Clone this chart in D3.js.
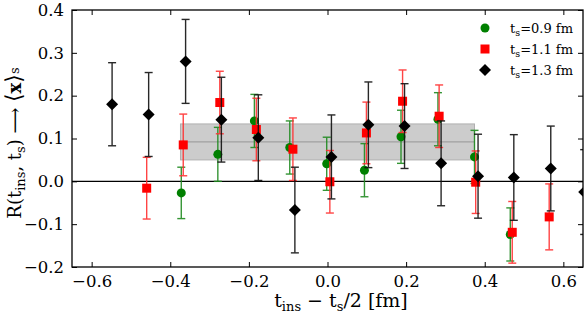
<!DOCTYPE html>
<html>
<head>
<meta charset="utf-8">
<script src="https://cdn.jsdelivr.net/npm/d3@7"></script>
<style>
  body { margin: 0; background: #fff; }
  svg { display: block; }
  text { font-family: "DejaVu Serif", "Liberation Serif", serif; fill: #000; }
</style>
</head>
<body>
<svg id="chart"></svg>
<script>
// ts = 0.9 fm
const greenX = [-0.372, -0.279, -0.186, -0.096, -0.002, 0.094, 0.187, 0.281, 0.374, 0.465];
const greenY = [-0.027, 0.063, 0.141, 0.079, 0.041, 0.026, 0.104, 0.145, 0.057, -0.124];
const greenErr = [0.060, 0.063, 0.062, 0.062, 0.062, 0.062, 0.062, 0.062, 0.062, 0.062];
// ts = 1.1 fm
const redX = [-0.460, -0.367, -0.274, -0.181, -0.088, 0.006, 0.099, 0.191, 0.284, 0.377, 0.470, 0.564];
const redY = [-0.016, 0.085, 0.184, 0.121, 0.075, -0.001, 0.113, 0.187, 0.152, -0.002, -0.119, -0.083];
const redErr = [0.072, 0.072, 0.073, 0.073, 0.073, 0.073, 0.072, 0.073, 0.073, 0.073, 0.072, 0.077];
// ts = 1.3 fm
const blackX = [-0.548, -0.455, -0.361, -0.270, -0.176, -0.083, 0.010, 0.104, 0.196, 0.289, 0.383, 0.474, 0.568, 0.653];
const blackY = [0.180, 0.156, 0.280, 0.144, 0.102, -0.067, 0.057, 0.132, 0.129, 0.042, 0.012, 0.009, 0.030, -0.025];
const blackErr = [0.097, 0.098, 0.098, 0.099, 0.100, 0.100, 0.098, 0.100, 0.099, 0.099, 0.098, 0.100, 0.099, 0.099];

// fit band
const bandRange = [-0.374, 0.374];
const bandValue = 0.092;
const bandErr = 0.042;

const xTicks = [-0.6, -0.4, -0.2, 0.0, 0.2, 0.4, 0.6];
const yTicks = [-0.2, -0.1, 0.0, 0.1, 0.2, 0.3, 0.4];
const legendLabels = ["0.9 fm", "1.1 fm", "1.3 fm"];

const width = 584, height = 313;
const margin = { top: 10, right: 1, bottom: 46, left: 72 };
const innerW = width - margin.left - margin.right;
const innerH = height - margin.top - margin.bottom;

const svg = d3.select('#chart').attr('width', width).attr('height', height);

const x = d3.scaleLinear().domain([-0.65, 0.65]).range([margin.left, margin.left + innerW]);
const y = d3.scaleLinear().domain([-0.2, 0.4]).range([margin.top + innerH, margin.top]);

svg.append('clipPath').attr('id', 'clip')
    .append('rect')
    .attr('x', margin.left).attr('y', margin.top)
    .attr('width', innerW).attr('height', innerH);

const plot = svg.append('g').attr('clip-path', 'url(#clip)');

// band
plot.append('rect')
    .attr('x', x(bandRange[0]))
    .attr('y', y(bandValue + bandErr))
    .attr('width', x(bandRange[1]) - x(bandRange[0]))
    .attr('height', y(bandValue - bandErr) - y(bandValue + bandErr))
    .attr('fill', '#cccccc')
    .attr('stroke', '#b0b0b0')
    .attr('stroke-width', 1);
plot.append('line')
    .attr('x1', x(bandRange[0])).attr('x2', x(bandRange[1]))
    .attr('y1', y(bandValue)).attr('y2', y(bandValue))
    .attr('stroke', '#a0a0a0').attr('stroke-width', 1.2);

// zero line
plot.append('line')
    .attr('x1', margin.left).attr('x2', margin.left + innerW)
    .attr('y1', y(0)).attr('y2', y(0))
    .attr('stroke', '#000').attr('stroke-width', 1.2);

const series = [
  { xs: greenX, ys: greenY, errs: greenErr, color: '#008000', bar: '#1f8a1f', shape: 'circle' },
  { xs: redX, ys: redY, errs: redErr, color: '#ff0000', bar: '#ff3030', shape: 'square' },
  { xs: blackX, ys: blackY, errs: blackErr, color: '#000000', bar: '#111111', shape: 'diamond' }
];

function drawMarker(g, shape, cx, cy, color) {
  if (shape === 'circle') {
    g.append('circle').attr('cx', cx).attr('cy', cy).attr('r', 4.5).attr('fill', color);
  } else if (shape === 'square') {
    g.append('rect').attr('x', cx - 4.5).attr('y', cy - 4.5).attr('width', 9).attr('height', 9).attr('fill', color);
  } else {
    const r = 6;
    g.append('path')
      .attr('d', `M${cx},${cy - r}L${cx + r},${cy}L${cx},${cy + r}L${cx - r},${cy}Z`)
      .attr('fill', color);
  }
}

const cap = 4;
series.forEach(s => {
  const g = plot.append('g');
  const pts = s.xs.map((v, i) => ({ x: v, y: s.ys[i], e: s.errs[i] }));
  const bars = g.append('g').attr('stroke', s.bar).attr('stroke-width', 1.4).attr('opacity', 0.9);
  pts.forEach(p => {
    const px = x(p.x);
    bars.append('line').attr('x1', px).attr('x2', px).attr('y1', y(p.y + p.e)).attr('y2', y(p.y - p.e));
    bars.append('line').attr('x1', px - cap).attr('x2', px + cap).attr('y1', y(p.y + p.e)).attr('y2', y(p.y + p.e));
    bars.append('line').attr('x1', px - cap).attr('x2', px + cap).attr('y1', y(p.y - p.e)).attr('y2', y(p.y - p.e));
  });
  pts.forEach(p => drawMarker(g, s.shape, x(p.x), y(p.y), s.color));
});

// axes, ticks inward on all sides
const fmt = d3.format('.1f');
const axisStyle = sel => {
  sel.select('.domain').remove();
  sel.selectAll('.tick line').attr('stroke', '#000').attr('stroke-width', 1);
  sel.selectAll('.tick text').style('font-size', '16.5px').style('font-family', '"DejaVu Serif", serif');
};
svg.append('g')
    .attr('transform', `translate(0,${margin.top + innerH})`)
    .call(d3.axisBottom(x).tickValues(xTicks).tickFormat(fmt).tickSize(-5).tickPadding(8))
    .call(axisStyle);
svg.append('g')
    .attr('transform', `translate(0,${margin.top})`)
    .call(d3.axisTop(x).tickValues(xTicks).tickFormat('').tickSize(-5))
    .call(axisStyle);
svg.append('g')
    .attr('transform', `translate(${margin.left},0)`)
    .call(d3.axisLeft(y).tickValues(yTicks).tickFormat(fmt).tickSize(-5).tickPadding(8))
    .call(axisStyle);
svg.append('g')
    .attr('transform', `translate(${margin.left + innerW},0)`)
    .call(d3.axisRight(y).tickValues(yTicks).tickFormat('').tickSize(-5))
    .call(axisStyle);

svg.append('rect')
    .attr('x', margin.left).attr('y', margin.top)
    .attr('width', innerW).attr('height', innerH)
    .attr('fill', 'none').attr('stroke', '#000').attr('stroke-width', 1.3);

// axis labels
const xl = svg.append('text')
    .attr('x', 341).attr('y', 307)
    .attr('text-anchor', 'middle')
    .style('font-size', '19px');
xl.append('tspan').text('t');
xl.append('tspan').attr('dy', 4).style('font-size', '13px').text('ins');
xl.append('tspan').attr('dy', -4).text(' − t');
xl.append('tspan').attr('dy', 4).style('font-size', '13px').text('s');
xl.append('tspan').attr('dy', -4).text('/2 [fm]');

const yl = svg.append('text')
    .attr('transform', 'translate(21,143) rotate(-90)')
    .attr('text-anchor', 'middle')
    .style('font-size', '18px');
yl.append('tspan').text('R(t');
yl.append('tspan').attr('dy', 4).style('font-size', '13px').text('ins');
yl.append('tspan').attr('dy', -4).text(', t');
yl.append('tspan').attr('dy', 4).style('font-size', '13px').text('s');
yl.append('tspan').attr('dy', -4).text(') ⟶ ');
yl.append('tspan').style('font-family', '"DejaVu Sans", sans-serif').style('font-size', '22px').text('⟨');
yl.append('tspan').style('font-weight', 'bold').text('x');
yl.append('tspan').style('font-family', '"DejaVu Sans", sans-serif').style('font-size', '22px').text('⟩');
yl.append('tspan').attr('dy', -2).style('font-size', '13px').text('s');

// legend
const legend = svg.append('g');
series.forEach((s, i) => {
  const ly = 28 + i * 21;
  drawMarker(legend, s.shape, 485, ly, s.color);
  const t = legend.append('text').attr('x', 510).attr('y', ly + 5).style('font-size', '13px');
  t.append('tspan').text('t');
  t.append('tspan').attr('dy', 3).style('font-size', '9.5px').text('s');
  t.append('tspan').attr('dy', -3).text('=' + legendLabels[i]);
});
</script>
</body>
</html>
